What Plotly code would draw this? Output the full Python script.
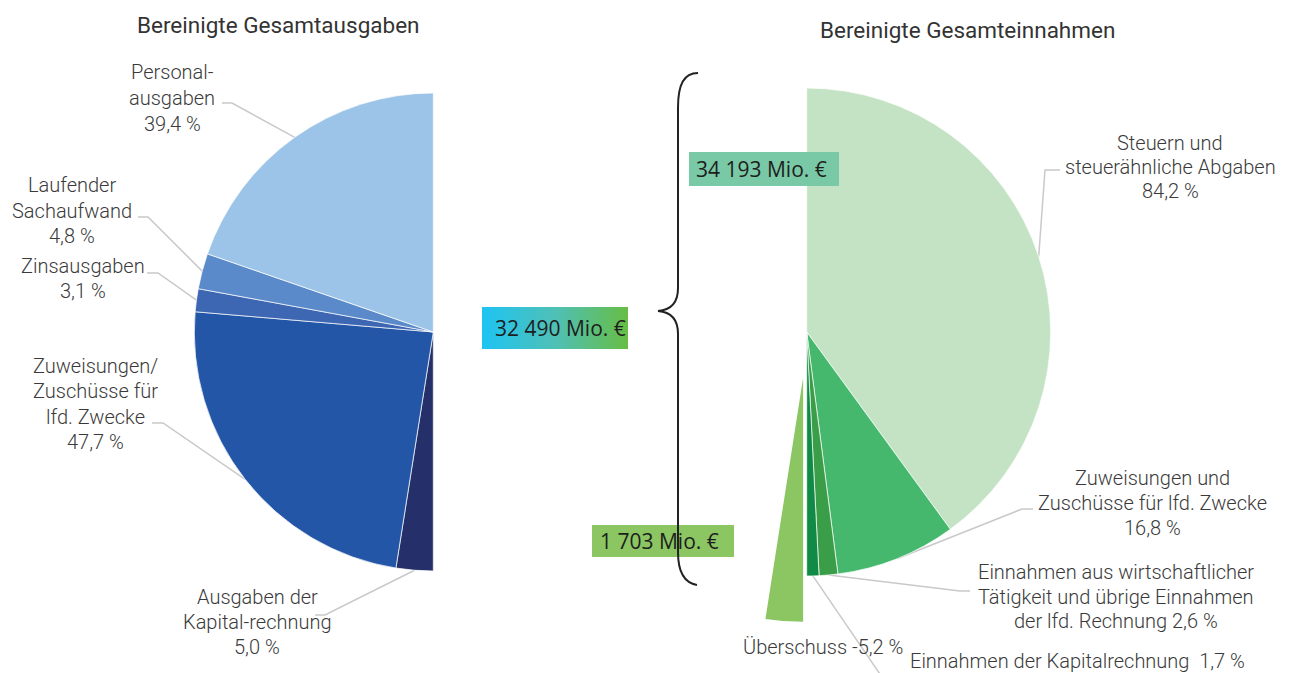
import math
import plotly.graph_objects as go

W, H = 1298, 673

# ---------------- data ----------------
left_title = "Bereinigte Gesamtausgaben"
right_title = "Bereinigte Gesamteinnahmen"

left_labels = ["Personalausgaben", "Laufender Sachaufwand", "Zinsausgaben",
               "Zuweisungen/Zuschüsse für lfd. Zwecke", "Ausgaben der Kapitalrechnung"]
left_values = [39.4, 4.8, 3.1, 47.7, 5.0]
left_text_lines = [["Personal-", "ausgaben"], ["Laufender", "Sachaufwand"], ["Zinsausgaben"],
                   ["Zuweisungen/", "Zuschüsse für", "lfd. Zwecke"], ["Ausgaben der", "Kapital-rechnung"]]
left_colors = ["#9bc4e8", "#5a8ac9", "#3d67b2", "#2356a6", "#25306a"]

right_labels = ["Steuern und steuerähnliche Abgaben", "Zuweisungen und Zuschüsse für lfd. Zwecke",
                "Einnahmen aus wirtschaftlicher Tätigkeit und übrige Einnahmen der lfd. Rechnung",
                "Einnahmen der Kapitalrechnung"]
right_values = [84.2, 16.8, 2.6, 1.7]
right_text_lines = [["Steuern und", "steuerähnliche Abgaben"], ["Zuweisungen und", "Zuschüsse für lfd. Zwecke"],
                    ["Einnahmen aus wirtschaftlicher", "Tätigkeit und übrige Einnahmen", "der lfd. Rechnung"],
                    ["Einnahmen der Kapitalrechnung "]]
right_colors = ["#c4e3c4", "#45b86e", "#3a9e48", "#118a45"]

surplus_label = "Überschuss"
surplus_value = -5.2
surplus_color = "#8bc662"

total_texts = ["34 193 Mio. €", "32 490 Mio. €", "1 703 Mio. €"]
total_colors = ["#79c9a6", None, "#8bc662"]


def pct(v):
    return f"{v:.1f}".replace(".", ",") + " %"


# ---------------- geometry (pixels) ----------------
L_CX, L_CY, L_R = 433.3, 332.0, 239.0
R_CX, R_CY, R_R = 806.7, 332.0, 244.0
PULL_PX = 46.0


def domain(cx, cy, r):
    return dict(x=[(cx - r) / W, (cx + r) / W], y=[(H - cy - r) / H, (H - cy + r) / H])


def edge(cx, cy, r, ang):
    a = math.radians(ang)
    return cx + r * math.sin(a), cy - r * math.cos(a)


TRANSP = "rgba(0,0,0,0)"
fig = go.Figure()

# left half pie: drawn clockwise from 6 o'clock, so the first category ends at 12 o'clock
lsum = sum(left_values)
fig.add_trace(go.Pie(
    values=left_values[::-1] + [lsum], labels=left_labels[::-1] + [" "], sort=False,
    direction="clockwise", rotation=180, textinfo="none", hoverinfo="skip",
    marker=dict(colors=left_colors[::-1] + [TRANSP],
                line=dict(color=["white"] * len(left_values) + [TRANSP], width=0.7)),
    domain=domain(L_CX, L_CY, L_R), showlegend=False))

# right half pie (clockwise from 12 o'clock)
rsum = sum(right_values)
fig.add_trace(go.Pie(
    values=right_values + [rsum], labels=right_labels + [" "], sort=False,
    direction="clockwise", rotation=0, textinfo="none", hoverinfo="skip",
    marker=dict(colors=right_colors + [TRANSP],
                line=dict(color=["white"] * len(right_values) + [TRANSP], width=0.7)),
    domain=domain(R_CX, R_CY, R_R), showlegend=False))

# surplus slice, pulled out below the half
sv = abs(surplus_value)
s_span = sv / (2 * rsum) * 360
bis = math.radians(180 + s_span / 2)
s_cx = R_CX + PULL_PX * math.sin(bis)
s_cy = R_CY - PULL_PX * math.cos(bis)
fig.add_trace(go.Pie(
    values=[sv, 2 * rsum - sv], labels=[surplus_label, " "], sort=False,
    direction="clockwise", rotation=180, textinfo="none", hoverinfo="skip",
    marker=dict(colors=[surplus_color, TRANSP], line=dict(width=0)),
    domain=domain(s_cx, s_cy, R_R), showlegend=False))

# ---------------- leader lines ----------------
LINE_COL = "#c9c9c9"


def leader(points):
    fig.add_trace(go.Scatter(x=[p[0] for p in points], y=[p[1] for p in points], mode="lines",
                             line=dict(color=LINE_COL, width=1.5), hoverinfo="skip", showlegend=False))


left_elbows = [[(232, 103), (222, 103)], [(148, 217), (138, 217)], [(158, 273), (147, 273)],
               [(163, 423), (152, 423)], [(325, 615), (315, 615)]]
acc = 0
for v, el in zip(left_values, left_elbows):
    mid = -(acc + v / 2) / (2 * lsum) * 360
    acc += v
    leader([edge(L_CX, L_CY, L_R, mid)] + el)

right_elbows = [[(1045, 170), (1060, 170)], [(1022, 509), (1033, 509)], [(960, 591), (970, 591)],
                [(884, 680)]]
acc = 0
for v, el in zip(right_values, right_elbows):
    mid = (acc + v / 2) / (2 * rsum) * 360
    acc += v
    leader([edge(R_CX, R_CY, R_R, mid)] + el)

# ---------------- labels ----------------
LABEL_FONT = dict(family="Roboto", size=20, color="#3a3a3a", weight=300)


def label_block(lines, x, y0, pitch):
    for i, t in enumerate(lines):
        fig.add_annotation(x=x, y=y0 + i * pitch, text=t, showarrow=False, xref="x", yref="y",
                           xanchor="center", yanchor="middle", font=LABEL_FONT)


left_pos = [(172, 72, 26), (72, 185, 25.5), (83, 266, 25), (95, 366, 25.3), (257, 597, 25)]
for lines, v, (x, y, p) in zip(left_text_lines, left_values, left_pos):
    label_block(lines + [pct(v)], x, y, p)

right_pos = [(1170, 143, 24), (1152, 478, 25), (1116, 572, 24.5), (1077, 661, 0)]
for i, (lines, v, (x, y, p)) in enumerate(zip(right_text_lines, right_values, right_pos)):
    if i == 2:
        lines = lines[:-1] + [lines[-1] + " " + pct(v)]
        label_block(lines, x, y, p)
    elif i == 3:
        label_block([lines[0] + " " + pct(v)], x, y, p)
    else:
        label_block(lines + [pct(v)], x, y, p)

label_block([surplus_label + " " + pct(surplus_value)], 823, 647, 0)

TITLE_FONT = dict(family="Roboto", size=22.5, color="#333333")
fig.add_annotation(x=278, y=25, text=left_title, showarrow=False, xref="x", yref="y",
                   xanchor="center", yanchor="middle", font=TITLE_FONT)
fig.add_annotation(x=967, y=30, text=right_title, showarrow=False, xref="x", yref="y",
                   xanchor="center", yanchor="middle", font=TITLE_FONT)

# ---------------- total boxes ----------------
BOX_FONT = dict(family="Open Sans", size=21, color="#1e1e1e")
boxes = [(689, 152, 839, 186, 761), (482, 307, 628, 349, 560), (592, 525, 734, 557, 659)]
for (x0, y0, x1, y1, tx), txt, col in zip(boxes, total_texts, total_colors):
    if col is None:
        fig.add_trace(go.Scatter(x=[x0, x1, x1, x0, x0], y=[y0, y0, y1, y1, y0], mode="lines",
                                 fill="toself", line=dict(width=0, color="rgba(0,0,0,0)"),
                                 fillgradient=dict(type="horizontal",
                                                   colorscale=[[0, "#1dc4f3"], [0.5, "#4fc0b6"], [1, "#67bd44"]]),
                                 hoverinfo="skip", showlegend=False))
    else:
        fig.add_shape(type="rect", x0=x0, y0=y0, x1=x1, y1=y1, xref="x", yref="y",
                      fillcolor=col, line=dict(width=0), layer="above")
    fig.add_annotation(x=tx, y=(y0 + y1) / 2, text=txt, showarrow=False, xref="x", yref="y",
                       xanchor="center", yanchor="middle", font=BOX_FONT)

# ---------------- brace ----------------
fig.add_shape(type="path", xref="x", yref="y", layer="above",
              path="M 698,73 C 684,73 678,84 678,108 L 678,288 C 678,302 672,310 658,311 "
                   "C 672,312 678,320 678,334 L 678,552 C 678,572 685,583 697,585",
              line=dict(color="#222222", width=2))

fig.update_layout(
    width=W, height=H, margin=dict(l=0, r=0, t=0, b=0),
    paper_bgcolor="white", plot_bgcolor="rgba(0,0,0,0)",
    xaxis=dict(range=[0, W], visible=False, fixedrange=True),
    yaxis=dict(range=[H, 0], visible=False, fixedrange=True),
    showlegend=False,
)

fig.write_html("out.html", post_script="document.body.style.margin='0';",
               config={"displayModeBar": False})
